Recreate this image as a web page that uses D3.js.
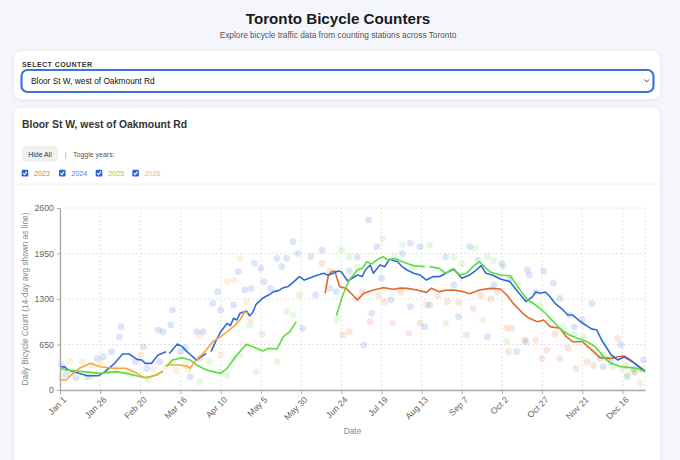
<!DOCTYPE html>
<html><head><meta charset="utf-8">
<script src="https://cdn.jsdelivr.net/npm/d3@7"></script>
<style>
html,body{margin:0;padding:0;background:#f4f6fb;overflow:hidden;}
svg{display:block;font-family:"Liberation Sans",Arial,Helvetica,sans-serif;}
</style></head><body>
<svg id="c" width="680" height="460"></svg>
<script>
const years = ["2023","2024","2025","2026"];
const tickDays = [0,25,50,75,100,125,150,175,200,225,250,275,300,325,350];
const tickLabels = ["Jan 1","Jan 26","Feb 20","Mar 16","Apr 10","May 5","May 30","Jun 24","Jul 19","Aug 13","Sep 7","Oct 2","Oct 27","Nov 21","Dec 16"];
const yTicks = [0,650,1300,1950,2600];

// 14-day average lines: [dayOfYear, count]; null = gap
const line2023 = [[165,1381],[167,1643],[169,1690],[171,1700],[174,1476],[178,1452],[182,1360],[185,1286],[189,1381],[195,1429],[201,1462],[207,1440],[212,1455],[216,1452],[222,1429],[228,1395],[231,1452],[236,1405],[240,1425],[245,1429],[251,1405],[255,1376],[261,1429],[268,1452],[274,1443],[278,1357],[282,1238],[288,1095],[292,1024],[297,976],[301,1000],[305,905],[311,881],[315,762],[319,690],[325,690],[332,548],[336,462],[343,452],[347,476],[351,486],[355,429],[359,357],[364,271]];
const line2024 = [[0,333],[3,330],[5,286],[10,250],[17,204],[24,204],[28,262],[34,381],[39,514],[43,514],[48,438],[51,429],[53,381],[57,381],[61,500],[66,548],[67,null],[68,520],[73,657],[76,619],[79,548],[82,486],[85,428],[88,476],[91,524],[92,null],[94,548],[97,700],[100,833],[104,952],[106,920],[108,1024],[110,1000],[112,1095],[116,1129],[118,1060],[120,1110],[122,1224],[126,1310],[130,1360],[133,1405],[136,1420],[139,1462],[142,1480],[145,1538],[149,1619],[152,1570],[155,1595],[159,1633],[164,1667],[167,1640],[170,1667],[173,1700],[175,1690],[179,1557],[182,1600],[185,1643],[188,1620],[190,1714],[193,1786],[195,1667],[199,1786],[202,1760],[205,1867],[210,1833],[213,1760],[216,1714],[220,1667],[224,1643],[228,1571],[232,1619],[236,1619],[240,1667],[245,1729],[250,1595],[255,1643],[259,1714],[262,1776],[265,1667],[269,1643],[274,1586],[280,1548],[284,1429],[290,1262],[294,1333],[296,1400],[299,1381],[302,1400],[305,1330],[308,1238],[313,1143],[316,1071],[319,1071],[325,957],[331,870],[334,860],[337,714],[341,571],[343,500],[347,429],[351,470],[355,420],[359,357],[364,262]];
const line2025 = [[0,310],[4,286],[14,262],[25,238],[35,262],[41,238],[50,190],[54,176],[60,214],[64,271],[65,null],[66,333],[70,429],[76,462],[81,429],[85,357],[91,286],[97,252],[100,238],[104,310],[110,500],[116,652],[120,619],[126,557],[130,595],[135,585],[139,762],[143,833],[147,976],[148,null],[172,1062],[176,1357],[180,1571],[185,1714],[188,1740],[191,1833],[194,1800],[197,1857],[201,1905],[204,1857],[208,1881],[213,1833],[220,1776],[227,1762],[228,null],[230,1762],[236,1738],[240,1667],[244,1729],[249,1643],[253,1667],[257,1762],[261,1833],[264,1762],[268,1681],[274,1643],[280,1633],[283,1538],[287,1405],[291,1286],[296,1214],[302,1100],[306,1000],[312,857],[317,786],[322,738],[328,690],[333,619],[339,457],[343,381],[349,333],[355,319],[359,310],[364,262]];
const line2026 = [[0,143],[4,143],[7,214],[12,310],[19,381],[25,333],[33,310],[41,310],[48,238],[52,176],[56,190],[60,214],[64,262],[65,null],[66,357],[74,357],[79,340],[81,310],[83,381],[87,476],[91,571],[95,690],[100,762],[104,833],[108,905],[112,1000],[115,1119],[117,1095]];

// daily counts (scatter): [dayOfYear, count]
const dots2023 = [[163,1810],[168,1700],[176,786],[180,833],[185,1300],[188,1405],[193,976],[198,1350],[202,1262],[207,952],[212,1400],[217,810],[224,952],[228,1214],[235,1350],[241,1262],[248,1250],[253,786],[257,1167],[262,1350],[268,1300],[272,1400],[278,881],[279,548],[281,881],[289,714],[296,714],[300,452],[303,571],[308,800],[311,452],[316,600],[321,310],[328,400],[332,350],[340,450],[347,738],[352,350],[357,262],[362,300]];
const dots2024 = [[1,357],[4,214],[10,170],[17,190],[23,452],[27,476],[32,548],[37,762],[38,905],[47,405],[52,619],[54,310],[61,857],[62,405],[64,833],[69,929],[70,1143],[75,548],[78,600],[81,190],[85,833],[87,452],[89,833],[95,1238],[98,1405],[100,1143],[108,1214],[111,1690],[115,1429],[119,1452],[121,1810],[125,1738],[127,1548],[131,1452],[135,1881],[138,1762],[141,1881],[145,2119],[148,1952],[151,881],[156,1905],[159,1357],[163,2000],[168,1452],[172,1405],[180,1700],[185,1900],[189,643],[192,2429],[194,1095],[197,2048],[200,1600],[206,1286],[213,1952],[218,2095],[218,1190],[224,2048],[227,905],[230,1214],[240,1900],[245,1500],[248,1048],[255,2048],[260,1850],[266,762],[270,1500],[275,1800],[280,1600],[284,548],[290,690],[291,1714],[292,1643],[296,1400],[301,1700],[307,1524],[311,1310],[317,1071],[320,900],[325,1000],[331,1238],[336,452],[338,333],[343,400],[349,643],[353,190],[357,300],[363,429]];
const dots2025 = [[2,300],[8,250],[20,200],[30,280],[45,230],[55,150],[70,400],[80,300],[87,119],[93,405],[100,250],[104,214],[108,452],[112,500],[118,929],[122,262],[126,800],[135,405],[141,1119],[145,1071],[149,1357],[172,1000],[175,2000],[180,1900],[185,1750],[201,2167],[208,1900],[213,2071],[220,1750],[230,2071],[240,952],[245,1900],[250,1800],[258,2024],[263,1000],[266,1900],[270,1850],[276,1762],[278,690],[285,1500],[298,1214],[305,1000],[313,905],[320,800],[326,750],[332,548],[338,500],[344,333],[350,300],[353,214],[358,250],[361,95]];
const dots2026 = [[1,190],[6,405],[14,400],[20,350],[25,400],[35,300],[42,250],[50,500],[58,300],[66,330],[72,280],[78,350],[87,786],[95,619],[100,500],[104,1548],[108,1571],[112,1881],[116,1262],[119,1000]];

const counterName = "Bloor St W, west of Oakmount Rd";

const lineColor = {"2023":"#e06a2c","2024":"#2f6bd6","2025":"#5cdc3e","2026":"#f2a83e"};
const labelColor = {"2023":"#e8774a","2024":"#4a82e0","2025":"#6ee05a","2026":"#f4b85a"};
const lines = {"2023":line2023,"2024":line2024,"2025":line2025,"2026":line2026};
const dots = {"2023":dots2023,"2024":dots2024,"2025":dots2025,"2026":dots2026};

const svg = d3.select("#c");
const defs = svg.append("defs");
const f = defs.append("filter").attr("id","sh").attr("x","-5%").attr("y","-20%").attr("width","110%").attr("height","140%");
f.append("feDropShadow").attr("dx",0).attr("dy",1).attr("stdDeviation",2.5).attr("flood-color","#1a2a5a").attr("flood-opacity",0.08);

// header
svg.append("text").attr("x",338).attr("y",24).attr("text-anchor","middle").attr("font-size",15.2).attr("font-weight","bold").attr("fill","#1a1a1a").text("Toronto Bicycle Counters");
svg.append("text").attr("x",338).attr("y",37.5).attr("text-anchor","middle").attr("font-size",8.3).attr("fill","#555").text("Explore bicycle traffic data from counting stations across Toronto");

// select card
svg.append("rect").attr("x",14).attr("y",51).attr("width",646).attr("height",48).attr("rx",8).attr("fill","#fff").attr("filter","url(#sh)");
svg.append("text").attr("x",22).attr("y",66.5).attr("font-size",7).attr("font-weight","bold").attr("letter-spacing",0.45).attr("fill","#333").text("SELECT COUNTER");
svg.append("rect").attr("x",21.5).attr("y",70).attr("width",632).attr("height",22).attr("rx",6).attr("fill","#fff").attr("stroke","#3f72dc").attr("stroke-width",2.2);
svg.append("text").attr("x",31).attr("y",84).attr("font-size",8.3).attr("fill","#111").text(counterName);
svg.append("path").attr("d","M644.5,79.5 L646.8,81.8 L649.1,79.5").attr("fill","none").attr("stroke","#444").attr("stroke-width",1);

// chart card
svg.append("rect").attr("x",14).attr("y",108).attr("width",646).attr("height",370).attr("rx",8).attr("fill","#fff").attr("filter","url(#sh)");
svg.append("text").attr("x",22).attr("y",127.8).attr("font-size",10.4).attr("font-weight","bold").attr("fill","#333").text(counterName);

// controls
svg.append("rect").attr("x",22).attr("y",146).attr("width",36).attr("height",16).attr("rx",4).attr("fill","#f1f1f3");
svg.append("text").attr("x",40).attr("y",157).attr("text-anchor","middle").attr("font-size",6.9).attr("fill","#333").text("Hide All");
svg.append("text").attr("x",65.7).attr("y",157).attr("text-anchor","middle").attr("font-size",7).attr("fill","#999").text("|");
svg.append("text").attr("x",73).attr("y",157).attr("font-size",7).attr("fill","#555").text("Toggle years:");

const cbX = [21.7,59,95.7,132.3];
years.forEach((yr,i)=>{
  const g = svg.append("g").attr("transform",`translate(${cbX[i]},169.8)`);
  g.append("rect").attr("width",6.6).attr("height",6.6).attr("rx",1.2).attr("fill","#2b64d8");
  g.append("path").attr("d","M1.5,3.4 L2.8,4.8 L5.2,1.9").attr("fill","none").attr("stroke","#fff").attr("stroke-width",1.1);
  svg.append("text").attr("x",cbX[i]+12.3).attr("y",176).attr("font-size",7.2).attr("fill",labelColor[yr]).text(yr);
});
svg.append("line").attr("x1",14).attr("x2",660).attr("y1",184).attr("y2",184).attr("stroke","#f0f0f2").attr("stroke-width",1);

// chart
const x = d3.scaleLinear().domain([0,364]).range([60,645]);
const y = d3.scaleLinear().domain([0,2600]).range([390,208]);

const grid = svg.append("g");
grid.selectAll("line.h").data(yTicks).join("line").attr("x1",60).attr("x2",645).attr("y1",d=>y(d)).attr("y2",d=>y(d)).attr("stroke","#dcdcdc").attr("stroke-dasharray","2,2").attr("stroke-width",0.8);
grid.selectAll("line.v").data(tickDays.concat([364])).join("line").attr("y1",208).attr("y2",390).attr("x1",d=>x(d)).attr("x2",d=>x(d)).attr("stroke","#dcdcdc").attr("stroke-dasharray","2,2").attr("stroke-width",0.8);

const dotG = svg.append("g");
years.forEach(yr=>{
  dotG.selectAll(null).data(dots[yr]).join("circle").attr("cx",d=>x(d[0])).attr("cy",d=>y(d[1])).attr("r",3.4).attr("fill",lineColor[yr]).attr("opacity",0.17);
});

const lg = d3.line().defined(d=>d[1]!=null).x(d=>x(d[0])).y(d=>y(d[1]));
years.forEach(yr=>{
  svg.append("path").datum(lines[yr]).attr("d",lg).attr("fill","none").attr("stroke",lineColor[yr]).attr("stroke-width",1.6).attr("stroke-linejoin","round");
});

const xAxis = svg.append("g").attr("transform","translate(0,390)")
  .call(d3.axisBottom(x).tickValues(tickDays).tickFormat((d,i)=>tickLabels[i]).tickSize(4).tickSizeOuter(0));
xAxis.selectAll("text").attr("font-size",8.8).attr("fill","#666").attr("text-anchor","end").attr("transform","rotate(-45)").attr("dx","-0.3em").attr("dy","0.55em");
const yAxis = svg.append("g").attr("transform","translate(60,0)")
  .call(d3.axisLeft(y).tickValues(yTicks).tickFormat(d3.format("d")).tickSize(3).tickSizeOuter(0));
yAxis.selectAll("text").attr("font-size",8.8).attr("fill","#666");
[xAxis,yAxis].forEach(a=>{a.selectAll("path,line").attr("stroke","#aaa");a.select(".domain").attr("stroke-width",1.3);a.attr("font-family",null);});

svg.append("text").attr("transform","translate(28,299) rotate(-90)").attr("text-anchor","middle").attr("font-size",8.3).attr("fill","#888").text("Daily Bicycle Count (14-day avg shown as line)");
svg.append("text").attr("x",352.5).attr("y",434).attr("text-anchor","middle").attr("font-size",8.3).attr("fill","#888").text("Date");
</script>
</body></html>
